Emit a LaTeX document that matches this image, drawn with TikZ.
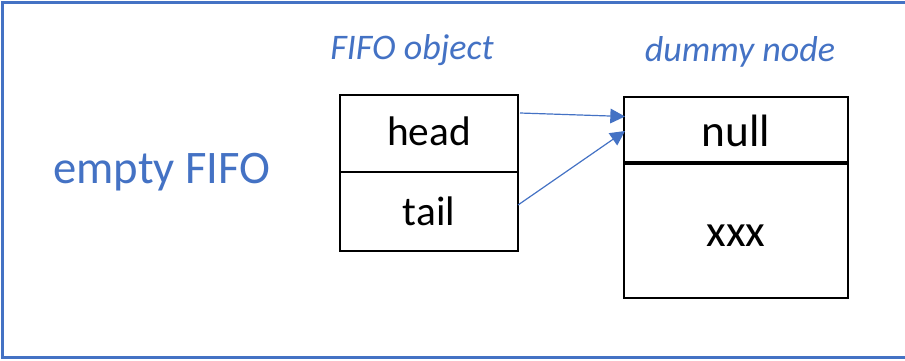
\documentclass[tikz,border=0pt]{standalone}
\usepackage{fontspec}
\setmainfont{Carlito}
\usetikzlibrary{arrows.meta}
\definecolor{ublue}{HTML}{4472C4}
\begin{document}
\begin{tikzpicture}[x=0.75pt,y=-0.75pt,
  cell/.style={draw=black,line width=1.8pt,minimum width=178*0.75pt,inner sep=0pt},
  lbl/.style={text=ublue,font=\fontsize{27}{30}\selectfont\itshape},
  ptr/.style={draw=ublue,line width=0.9pt,-{Triangle[length=11pt,width=11pt]}}]
\useasboundingbox (0,0) rectangle (905,360);
\draw[ublue,line width=1.8pt] (909,2.5) -- (2.5,2.5) -- (2.5,357.5) -- (909,357.5);
% FIFO object
\node[cell,minimum height=77*0.75pt] (head) at (429,133.5) {};
\node[cell,minimum height=79*0.75pt] (tail) at (429,211.5) {};
\node[font=\fontsize{31}{34}\selectfont] (headt) at (429,131) {head};
\node[font=\fontsize{31}{34}\selectfont] (tailt) at (429,211) {tail};
% dummy node
\node[draw=black,line width=1.8pt,minimum width=224*0.75pt,minimum height=201*0.75pt,inner sep=0pt] (dummy) at (736,197.5) {};
\coordinate (dl) at (624,163);
\coordinate (dr) at (848,163);
\draw[black,line width=2.8pt] (dl) -- (dr);
\node[font=\fontsize{34}{38}\selectfont] (null) at (736,131) {null};
\node[font=\fontsize{34}{38}\selectfont] (xxx) at (736,236) {xxx};
% labels
\node[lbl] (fo) at (412,50) {FIFO object};
\node[lbl] (dn) at (740,52) {dummy node};
\node[text=ublue,font=\fontsize{35}{38}\selectfont] (ef) at (162,172) {empty FIFO};
% pointers
\coordinate (hs) at (520,113);
\coordinate (he) at (625,116.5);
\coordinate (ts) at (518,205);
\coordinate (te) at (625,131);
\draw[ptr] (hs) -- (he);
\draw[ptr] (ts) -- (te);
\end{tikzpicture}
\end{document}
